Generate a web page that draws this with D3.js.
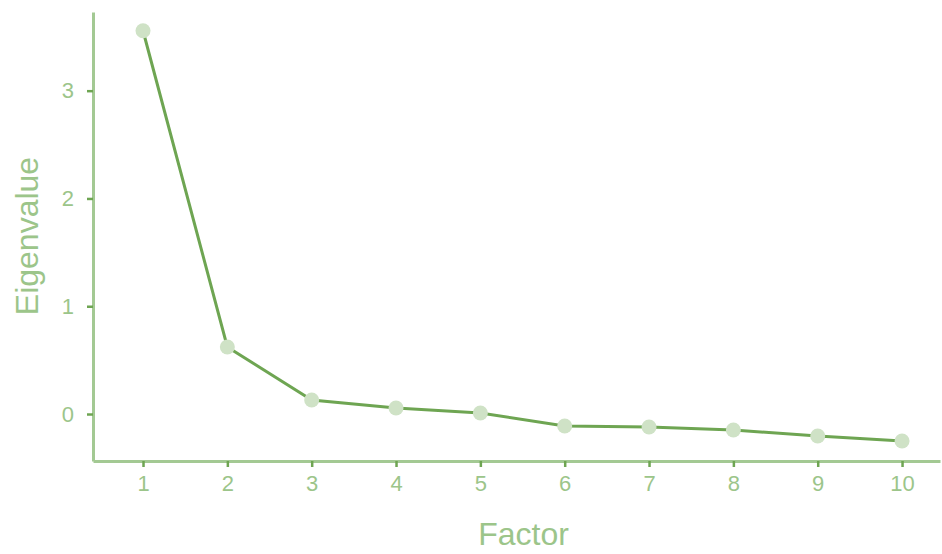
<!DOCTYPE html>
<html>
<head>
<meta charset="utf-8">
<script src="https://cdn.jsdelivr.net/npm/d3@7"></script>
<style>
  body { margin: 0; background: #fff; }
  svg { display: block; }
  text { font-family: "Liberation Sans", Arial, sans-serif; }
</style>
</head>
<body>
<svg width="942" height="554"></svg>
<script>
var factors = [1, 2, 3, 4, 5, 6, 7, 8, 9, 10];
var eigenvalues = [3.556, 0.622, 0.13, 0.056, 0.009, -0.111, -0.121, -0.149, -0.204, -0.251];
var yTicks = [0, 1, 2, 3];

var axisColor = "#a3c993";
var labelColor = "#9cc58a";
var lineColor = "#6ea552";
var dotColor = "#cfe2c6";

var svg = d3.select("svg");
var plotLeft = 93, plotRight = 940, plotTop = 12, plotBottom = 461;

var x = d3.scaleLinear().domain([0.407, 10.45]).range([plotLeft, plotRight]);
var y = d3.scaleLinear().domain([-0.436, 3.73]).range([plotBottom, plotTop]);

var xAxis = svg.append("g")
  .attr("transform", "translate(0," + plotBottom + ")")
  .call(d3.axisBottom(x).tickValues(factors).tickSize(6).tickSizeOuter(0).tickPadding(8).tickFormat(d3.format("d")));
var yAxis = svg.append("g")
  .attr("transform", "translate(" + plotLeft + ",0)")
  .call(d3.axisLeft(y).tickValues(yTicks).tickSize(6).tickSizeOuter(0).tickPadding(13).tickFormat(d3.format("d")));

[xAxis, yAxis].forEach(function(g) {
  g.attr("font-family", null);
  g.select(".domain").attr("stroke", axisColor).attr("stroke-width", 3);
  g.selectAll(".tick line").attr("stroke", lineColor).attr("stroke-width", 2.5);
  g.selectAll(".tick text").attr("fill", labelColor).style("font-size", "22px");
});

var line = d3.line()
  .x(function(d, i) { return x(factors[i]); })
  .y(function(d) { return y(d); });

svg.append("path")
  .datum(eigenvalues)
  .attr("d", line)
  .attr("fill", "none")
  .attr("stroke", lineColor)
  .attr("stroke-width", 3);

svg.selectAll("circle")
  .data(eigenvalues)
  .enter()
  .append("circle")
  .attr("cx", function(d, i) { return x(factors[i]); })
  .attr("cy", function(d) { return y(d); })
  .attr("r", 7.5)
  .attr("fill", dotColor);

svg.append("text")
  .attr("x", (plotLeft + plotRight) / 2 + 7)
  .attr("y", 545)
  .attr("text-anchor", "middle")
  .attr("fill", labelColor)
  .style("font-size", "32px")
  .text("Factor");

svg.append("text")
  .attr("transform", "translate(38,236) rotate(-90)")
  .attr("text-anchor", "middle")
  .attr("fill", labelColor)
  .style("font-size", "32px")
  .text("Eigenvalue");
</script>
</body>
</html>
